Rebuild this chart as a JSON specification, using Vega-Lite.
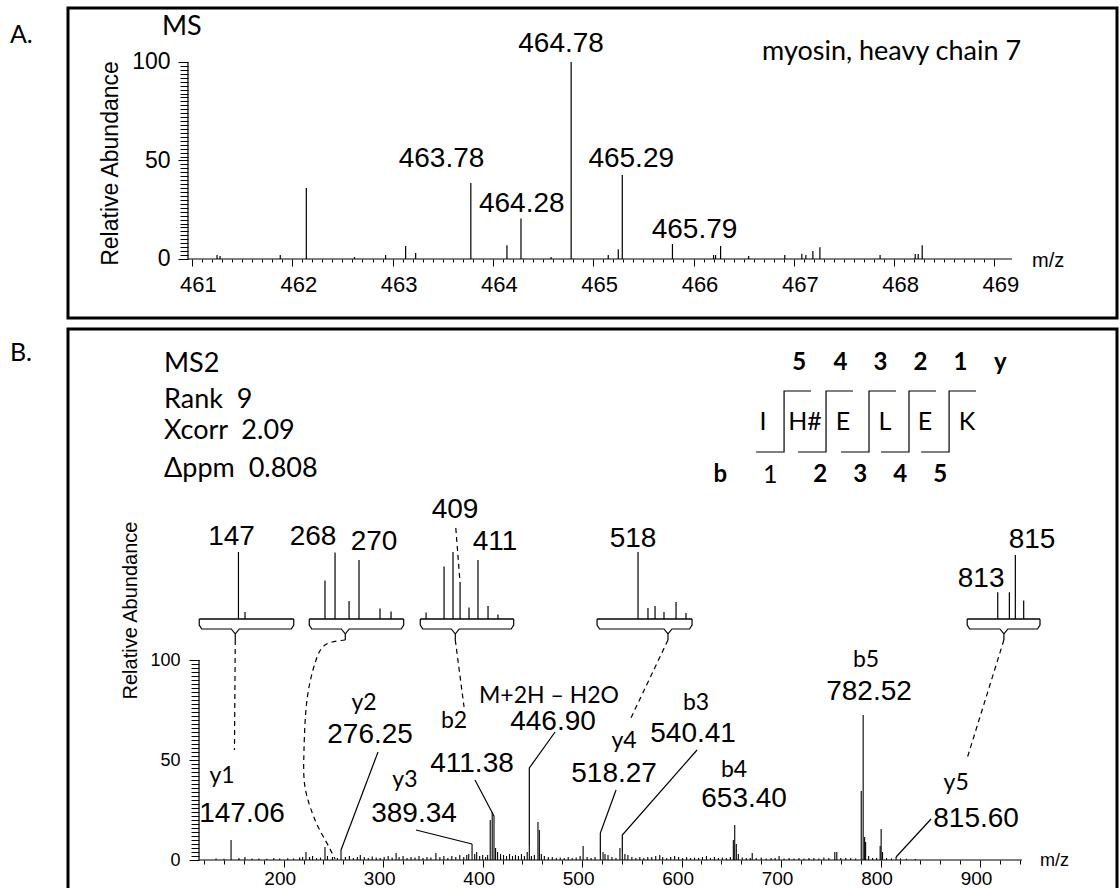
{
"$schema": "https://vega.github.io/schema/vega-lite/v6.json",
"background": "white",
"padding": {"left": 8, "top": 6, "right": 0, "bottom": 0},
"spacing": 11,
"bounds": "flush",
"config": {
  "view": {"stroke": "black", "strokeWidth": 3},
  "axis": {"grid": false, "domain": false, "tickColor": "black", "labelColor": "black", "titleColor": "black", "labelFont": "Liberation Sans", "titleFont": "Liberation Sans", "titleFontWeight": "normal", "labelOverlap": false, "labelFlush": false, "labelBound": false, "tickWidth": 1}
},
"vconcat": [
{
  "width": 1049, "height": 310,
  "encoding": {
    "x": {"field": "mz", "type": "quantitative", "scale": {"domain": [459.764, 470.222], "nice": false, "zero": false},
      "axis": {"orient": "bottom", "offset": -59, "title": null,
        "values": [461,461.1,461.2,461.3,461.4,461.5,461.6,461.7,461.8,461.9,462,462.1,462.2,462.3,462.4,462.5,462.6,462.7,462.8,462.9,463,463.1,463.2,463.3,463.4,463.5,463.6,463.7,463.8,463.9,464,464.1,464.2,464.3,464.4,464.5,464.6,464.7,464.8,464.9,465,465.1,465.2,465.3,465.4,465.5,465.6,465.7,465.8,465.9,466,466.1,466.2,466.3,466.4,466.5,466.6,466.7,466.8,466.9,467,467.1,467.2,467.3,467.4,467.5,467.6,467.7,467.8,467.9,468,468.1,468.2,468.3,468.4,468.5,468.6,468.7,468.8,468.9,469],
        "tickSize": {"condition": {"test": "datum.value % 1 === 0", "value": 7}, "value": 3},
        "labelExpr": "datum.value % 1 === 0 ? format(datum.value, 'd') : ''",
        "labelFontSize": 22, "labelPadding": 8, "labelOffset": 6}},
    "y": {"field": "ab", "type": "quantitative", "scale": {"domain": [-29.95, 127.41], "nice": false, "zero": false},
      "axis": {"orient": "left", "offset": -120, "title": "Relative Abundance", "titleFontSize": 23, "titlePadding": 9,
        "values": [0,2,4,6,8,10,12,14,16,18,20,22,24,26,28,30,32,34,36,38,40,42,44,46,48,50,52,54,56,58,60,62,64,66,68,70,72,74,76,78,80,82,84,86,88,90,92,94,96,98,100],
        "tickSize": {"condition": {"test": "datum.value % 50 === 0", "value": 10}, "value": 8},
        "labelExpr": "datum.value % 50 === 0 ? datum.label : ''",
        "labelFontSize": 23, "labelPadding": 8}}
  },
  "layer": [
    {"data": {"values": [{"mz": 460.96, "ab": 0, "mz2": 469.175, "ab2": 0}, {"mz": 460.96, "ab": 0, "mz2": 460.96, "ab2": 100}]},
     "mark": {"type": "rule", "color": "black", "strokeWidth": 1.2},
     "encoding": {"x2": {"field": "mz2"}, "y2": {"field": "ab2"}}},
    {"data": {"values": [
      {"mz": 461.25, "ab": 2}, {"mz": 461.28, "ab": 1.5}, {"mz": 461.88, "ab": 2}, {"mz": 462.14, "ab": 36},
      {"mz": 462.62, "ab": 1}, {"mz": 462.93, "ab": 2}, {"mz": 463.13, "ab": 6.6}, {"mz": 463.23, "ab": 3},
      {"mz": 463.78, "ab": 38.6}, {"mz": 464.14, "ab": 7}, {"mz": 464.28, "ab": 20.5}, {"mz": 464.58, "ab": 1},
      {"mz": 464.78, "ab": 100}, {"mz": 465.15, "ab": 2}, {"mz": 465.25, "ab": 5}, {"mz": 465.29, "ab": 42.6},
      {"mz": 465.79, "ab": 7.6}, {"mz": 466.2, "ab": 2}, {"mz": 466.22, "ab": 2}, {"mz": 466.27, "ab": 6.6},
      {"mz": 466.55, "ab": 1.5}, {"mz": 466.91, "ab": 2}, {"mz": 467.08, "ab": 2.7}, {"mz": 467.12, "ab": 2},
      {"mz": 467.19, "ab": 4}, {"mz": 467.26, "ab": 6}, {"mz": 467.86, "ab": 2}, {"mz": 468.21, "ab": 2.5},
      {"mz": 468.24, "ab": 2.5}, {"mz": 468.28, "ab": 7}]},
     "mark": {"type": "rule", "color": "black", "strokeWidth": 1.2},
     "encoding": {"y2": {"datum": 0}}},
    {"data": {"values": [
      {"mz": 463.488, "ab": 46.7, "t": "463.78"}, {"mz": 464.288, "ab": 23.9, "t": "464.28"},
      {"mz": 464.68, "ab": 105.1, "t": "464.78"}, {"mz": 465.379, "ab": 46.7, "t": "465.29"},
      {"mz": 466.01, "ab": 10.7, "t": "465.79"}]},
     "mark": {"type": "text", "font": "Liberation Sans", "fontSize": 28, "align": "center", "baseline": "alphabetic", "color": "black"},
     "encoding": {"text": {"field": "t"}}},
    {"data": {"values": [{"mz": 459.185, "ab": 109.6, "t": "A."}]},
     "mark": {"type": "text", "font": "Lato", "fontSize": 25, "align": "left", "baseline": "alphabetic", "color": "black"},
     "encoding": {"text": {"field": "t"}}},
    {"data": {"values": [
      {"mz": 460.70, "ab": 113.7, "t": "MS"},
      {"mz": 466.683, "ab": 101, "t": "myosin, heavy chain 7"}]},
     "mark": {"type": "text", "font": "Lato", "fontSize": 27, "align": "left", "baseline": "alphabetic", "color": "black"},
     "encoding": {"text": {"field": "t"}}},
    {"data": {"values": [{"mz": 469.375, "ab": -4.1, "t": "m/z"}]},
     "mark": {"type": "text", "font": "Liberation Sans", "fontSize": 20, "align": "left", "baseline": "alphabetic", "color": "black"},
     "encoding": {"text": {"field": "t"}}}
  ]
},
{
  "width": 1049, "height": 562,
  "encoding": {
    "x": {"field": "mz", "type": "quantitative", "scale": {"domain": [-16.85, 1037.7], "nice": false, "zero": false},
      "axis": {"orient": "bottom", "offset": -31, "title": null,
        "values": [120,140,160,180,200,220,240,260,280,300,320,340,360,380,400,420,440,460,480,500,520,540,560,580,600,620,640,660,680,700,720,740,760,780,800,820,840,860,880,900,920,940],
        "tickSize": {"condition": {"test": "datum.value % 100 === 0", "value": 7}, "value": 4},
        "labelExpr": "datum.value % 100 === 0 ? datum.label : ''",
        "labelFontSize": 19, "labelPadding": 2, "labelOffset": -4}},
    "y": {"field": "ab", "type": "quantitative", "scale": {"domain": [-15.5, 265.5], "nice": false, "zero": false},
      "axis": {"orient": "left", "offset": -131, "title": "Relative Abundance", "titleFontSize": 20, "titlePadding": 9,
        "values": [0,2,4,6,8,10,12,14,16,18,20,22,24,26,28,30,32,34,36,38,40,42,44,46,48,50,52,54,56,58,60,62,64,66,68,70,72,74,76,78,80,82,84,86,88,90,92,94,96,98,100],
        "tickSize": {"condition": {"test": "datum.value % 50 === 0", "value": 10}, "value": 8},
        "labelExpr": "datum.value % 50 === 0 ? datum.label : ''",
        "labelFontSize": 18, "labelPadding": 9}}
  },
  "layer": [
    {"data": {"values": [{"mz": 114.85, "ab": 0, "mz2": 942.2, "ab2": 0}, {"mz": 114.85, "ab": 0, "mz2": 114.85, "ab2": 100}]},
     "mark": {"type": "rule", "color": "black", "strokeWidth": 1.2},
     "encoding": {"x2": {"field": "mz2"}, "y2": {"field": "ab2"}}},
    {"data": {"values": [
      {"mz":132,"ab":0.8},{"mz":140,"ab":0.6},{"mz":147.06,"ab":10},{"mz":155,"ab":1},{"mz":161,"ab":1.5},{"mz":168,"ab":0.7},{"mz":175,"ab":0.8},{"mz":183,"ab":0.6},{"mz":190,"ab":1},{"mz":196,"ab":0.7},
      {"mz":204,"ab":0.9},{"mz":210,"ab":0.8},{"mz":216,"ab":1.2},{"mz":219,"ab":1.5},{"mz":222.4,"ab":4},{"mz":226,"ab":1.5},{"mz":229,"ab":2},{"mz":233,"ab":1},{"mz":237,"ab":1.2},{"mz":241.5,"ab":6.5},
      {"mz":244,"ab":2},{"mz":249,"ab":1.5},{"mz":254,"ab":1},{"mz":257.6,"ab":5},{"mz":262,"ab":1.5},{"mz":266,"ab":2},{"mz":270,"ab":1},{"mz":274,"ab":1.5},{"mz":277,"ab":2.5},{"mz":281,"ab":1.5},
      {"mz":285,"ab":1},{"mz":289,"ab":1.8},{"mz":293,"ab":1.2},{"mz":297,"ab":1},{"mz":301,"ab":1.5},{"mz":305,"ab":2},{"mz":309,"ab":1.2},{"mz":313,"ab":3.5},{"mz":316,"ab":1.5},{"mz":320,"ab":2},
      {"mz":324,"ab":1},{"mz":328,"ab":1.5},{"mz":332,"ab":1.2},{"mz":336,"ab":2},{"mz":340,"ab":1},{"mz":344,"ab":1.5},{"mz":348,"ab":1.2},{"mz":353,"ab":3.5},{"mz":357,"ab":1.5},{"mz":361,"ab":2},
      {"mz":365,"ab":1},{"mz":369,"ab":2},{"mz":373,"ab":1.5},{"mz":377,"ab":2.5},{"mz":381,"ab":1.5},{"mz":384,"ab":2.5},{"mz":386,"ab":3},{"mz":389.34,"ab":8},{"mz":392,"ab":3},{"mz":394,"ab":4},
      {"mz":397,"ab":2},{"mz":400,"ab":2.5},{"mz":403,"ab":1.5},{"mz":405,"ab":2.5},{"mz":407.6,"ab":20},{"mz":409.6,"ab":24},{"mz":411.4,"ab":22},{"mz":413,"ab":6},{"mz":415,"ab":4},{"mz":418,"ab":3},
      {"mz":421,"ab":2.5},{"mz":424,"ab":2},{"mz":427,"ab":3},{"mz":430,"ab":2},{"mz":433,"ab":2.5},{"mz":436,"ab":2},{"mz":439,"ab":3},{"mz":442,"ab":2},{"mz":444.8,"ab":4},{"mz":446.9,"ab":7.5},
      {"mz":449,"ab":2},{"mz":452,"ab":2.5},{"mz":455.6,"ab":19},{"mz":457,"ab":15},{"mz":459,"ab":3},{"mz":462,"ab":2},{"mz":466,"ab":1.5},{"mz":470,"ab":1.5},{"mz":474,"ab":1},{"mz":478,"ab":1.2},
      {"mz":482,"ab":1},{"mz":486,"ab":1.5},{"mz":490,"ab":1},{"mz":494,"ab":1.2},{"mz":498,"ab":2},{"mz":501,"ab":7},{"mz":505,"ab":1.5},{"mz":509,"ab":1},{"mz":513,"ab":1.5},{"mz":518.3,"ab":3},
      {"mz":521,"ab":4},{"mz":523,"ab":3},{"mz":526,"ab":2.5},{"mz":530,"ab":1.5},{"mz":534,"ab":1},{"mz":538,"ab":6},{"mz":540.4,"ab":4},{"mz":543,"ab":3},{"mz":546,"ab":2.5},{"mz":550,"ab":1.5},
      {"mz":554,"ab":1},{"mz":558,"ab":1.5},{"mz":562,"ab":1},{"mz":566,"ab":1.5},{"mz":570,"ab":1.5},{"mz":574,"ab":2},{"mz":578,"ab":2.5},{"mz":581,"ab":1.5},{"mz":585,"ab":1},{"mz":589,"ab":1.5},
      {"mz":593,"ab":2},{"mz":597,"ab":1.5},{"mz":601,"ab":1},{"mz":605,"ab":1.5},{"mz":609,"ab":1},{"mz":613,"ab":1.2},{"mz":617,"ab":1},{"mz":621,"ab":1.5},{"mz":625,"ab":2},{"mz":629,"ab":1},
      {"mz":633,"ab":1.5},{"mz":637,"ab":1},{"mz":641,"ab":1.2},{"mz":645,"ab":1},{"mz":649,"ab":1.5},{"mz":652,"ab":10},{"mz":653.4,"ab":17.5},{"mz":655,"ab":8},{"mz":657,"ab":3},{"mz":661,"ab":1.2},
      {"mz":665,"ab":1},{"mz":669,"ab":1},{"mz":671,"ab":3.5},{"mz":675,"ab":1},{"mz":680,"ab":1.2},{"mz":685,"ab":0.8},{"mz":690,"ab":1},{"mz":694,"ab":1},{"mz":698,"ab":2},{"mz":703,"ab":0.8},
      {"mz":708,"ab":1},{"mz":713,"ab":0.8},{"mz":718,"ab":1},{"mz":723,"ab":0.8},{"mz":728,"ab":1},{"mz":733,"ab":1},{"mz":738,"ab":0.8},{"mz":743,"ab":1.2},{"mz":748,"ab":1},{"mz":754,"ab":4},
      {"mz":756,"ab":4},{"mz":760,"ab":1},{"mz":765,"ab":1},{"mz":770,"ab":1},{"mz":775,"ab":0.8},{"mz":780.6,"ab":34.5},{"mz":782.52,"ab":72.5},{"mz":784,"ab":11.5},{"mz":785,"ab":9},{"mz":788,"ab":2},
      {"mz":792,"ab":1},{"mz":796,"ab":1},{"mz":799.6,"ab":7},{"mz":800.6,"ab":15.5},{"mz":802,"ab":4},{"mz":806,"ab":1},{"mz":811,"ab":0.8},{"mz":815.6,"ab":1.5},{"mz":820,"ab":0.8},{"mz":826,"ab":0.6},{"mz":835,"ab":0.5}]},
     "mark": {"type": "rule", "color": "black", "strokeWidth": 1.1},
     "encoding": {"y2": {"datum": 0}}},
    {"data": {"values": [
      {"mz":154.5,"ab":154},{"mz":161.1,"ab":124},
      {"mz":241.5,"ab":139.7},{"mz":251.6,"ab":153.8},{"mz":265.7,"ab":129.5},{"mz":275.7,"ab":150},{"mz":296.8,"ab":125.8},{"mz":307.9,"ab":124.2},
      {"mz":343.1,"ab":123.7},{"mz":361.2,"ab":146.7},{"mz":370.2,"ab":154},{"mz":377.3,"ab":138.5},{"mz":386.3,"ab":126.3},{"mz":395.3,"ab":150},{"mz":405.4,"ab":127},{"mz":415.4,"ab":122.8},
      {"mz":556.2,"ab":154},{"mz":566.2,"ab":126},{"mz":573.3,"ab":127},{"mz":582.3,"ab":124},{"mz":594.4,"ab":129},{"mz":604.4,"ab":123.5},
      {"mz":917.8,"ab":133.9},{"mz":929.5,"ab":133.9},{"mz":935.5,"ab":152.5},{"mz":943.9,"ab":129.7}]},
     "mark": {"type": "rule", "color": "black", "strokeWidth": 1.2},
     "encoding": {"y2": {"datum": 120.5}}},
    {"data": {"values": [
      {"mz":115.1,"mz2":210.1,"ab":120.5,"ab2":120.5},{"mz":225.7,"mz2":320.6,"ab":120.5,"ab2":120.5},
      {"mz":337.3,"mz2":431.2,"ab":120.5,"ab2":120.5},{"mz":515,"mz2":610.5,"ab":120.5,"ab2":120.5},
      {"mz":887.1,"mz2":960.3,"ab":120.5,"ab2":120.5}]},
     "mark": {"type": "rule", "color": "black", "strokeWidth": 1.3},
     "encoding": {"x2": {"field": "mz2"}, "y2": {"field": "ab2"}}},
    {"data": {"values": [
      {"g":"i1","o":1,"mz":115.1,"ab":120.5},{"g":"i1","o":2,"mz":115.1,"ab":117.5},{"g":"i1","o":3,"mz":117.6,"ab":115.5},{"g":"i1","o":4,"mz":147.3,"ab":115.5},{"g":"i1","o":5,"mz":151.3,"ab":113},{"g":"i1","o":6,"mz":151.3,"ab":110},{"g":"i1","o":7,"mz":151.3,"ab":113},{"g":"i1","o":8,"mz":155.3,"ab":115.5},{"g":"i1","o":9,"mz":207.6,"ab":115.5},{"g":"i1","o":10,"mz":210.1,"ab":117.5},{"g":"i1","o":11,"mz":210.1,"ab":120.5},
      {"g":"i2","o":1,"mz":225.7,"ab":120.5},{"g":"i2","o":2,"mz":225.7,"ab":117.5},{"g":"i2","o":3,"mz":228.2,"ab":115.5},{"g":"i2","o":4,"mz":257.9,"ab":115.5},{"g":"i2","o":5,"mz":261.9,"ab":113},{"g":"i2","o":6,"mz":261.9,"ab":110},{"g":"i2","o":7,"mz":261.9,"ab":113},{"g":"i2","o":8,"mz":265.9,"ab":115.5},{"g":"i2","o":9,"mz":318.1,"ab":115.5},{"g":"i2","o":10,"mz":320.6,"ab":117.5},{"g":"i2","o":11,"mz":320.6,"ab":120.5},
      {"g":"i3","o":1,"mz":337.3,"ab":120.5},{"g":"i3","o":2,"mz":337.3,"ab":117.5},{"g":"i3","o":3,"mz":339.8,"ab":115.5},{"g":"i3","o":4,"mz":368.5,"ab":115.5},{"g":"i3","o":5,"mz":372.5,"ab":113},{"g":"i3","o":6,"mz":372.5,"ab":110},{"g":"i3","o":7,"mz":372.5,"ab":113},{"g":"i3","o":8,"mz":376.5,"ab":115.5},{"g":"i3","o":9,"mz":428.7,"ab":115.5},{"g":"i3","o":10,"mz":431.2,"ab":117.5},{"g":"i3","o":11,"mz":431.2,"ab":120.5},
      {"g":"i4","o":1,"mz":515,"ab":120.5},{"g":"i4","o":2,"mz":515,"ab":117.5},{"g":"i4","o":3,"mz":517.5,"ab":115.5},{"g":"i4","o":4,"mz":582.3,"ab":115.5},{"g":"i4","o":5,"mz":586.3,"ab":113},{"g":"i4","o":6,"mz":586.3,"ab":110},{"g":"i4","o":7,"mz":586.3,"ab":113},{"g":"i4","o":8,"mz":590.3,"ab":115.5},{"g":"i4","o":9,"mz":608,"ab":115.5},{"g":"i4","o":10,"mz":610.5,"ab":117.5},{"g":"i4","o":11,"mz":610.5,"ab":120.5},
      {"g":"i5","o":1,"mz":887.1,"ab":120.5},{"g":"i5","o":2,"mz":887.1,"ab":117.5},{"g":"i5","o":3,"mz":889.6,"ab":115.5},{"g":"i5","o":4,"mz":920,"ab":115.5},{"g":"i5","o":5,"mz":924,"ab":113},{"g":"i5","o":6,"mz":924,"ab":110},{"g":"i5","o":7,"mz":924,"ab":113},{"g":"i5","o":8,"mz":928,"ab":115.5},{"g":"i5","o":9,"mz":957.8,"ab":115.5},{"g":"i5","o":10,"mz":960.3,"ab":117.5},{"g":"i5","o":11,"mz":960.3,"ab":120.5},
      {"g":"s1","o":1,"mz":674.9,"ab":204},{"g":"s1","o":2,"mz":703,"ab":204},{"g":"s1","o":3,"mz":703,"ab":234.5},{"g":"s1","o":4,"mz":730.1,"ab":234.5},
      {"g":"s2","o":1,"mz":717.1,"ab":204},{"g":"s2","o":2,"mz":745.2,"ab":204},{"g":"s2","o":3,"mz":745.2,"ab":234.5},{"g":"s2","o":4,"mz":772.3,"ab":234.5},
      {"g":"s3","o":1,"mz":760.3,"ab":204},{"g":"s3","o":2,"mz":788.4,"ab":204},{"g":"s3","o":3,"mz":788.4,"ab":234.5},{"g":"s3","o":4,"mz":815.5,"ab":234.5},
      {"g":"s4","o":1,"mz":800.5,"ab":204},{"g":"s4","o":2,"mz":828.6,"ab":204},{"g":"s4","o":3,"mz":828.6,"ab":234.5},{"g":"s4","o":4,"mz":855.7,"ab":234.5},
      {"g":"s5","o":1,"mz":840.8,"ab":204},{"g":"s5","o":2,"mz":868.9,"ab":204},{"g":"s5","o":3,"mz":868.9,"ab":234.5},{"g":"s5","o":4,"mz":896,"ab":234.5},
      {"g":"y2","o":1,"mz":294.8,"ab":54},{"g":"y2","o":2,"mz":257.6,"ab":5},
      {"g":"y3","o":1,"mz":333,"ab":15},{"g":"y3","o":2,"mz":389.34,"ab":8},
      {"g":"b2","o":1,"mz":392.3,"ab":40},{"g":"b2","o":2,"mz":411.4,"ab":22},
      {"g":"m","o":1,"mz":472.8,"ab":64},{"g":"m","o":2,"mz":446.9,"ab":46},{"g":"m","o":3,"mz":446.9,"ab":7.5},
      {"g":"y4","o":1,"mz":534.1,"ab":35},{"g":"y4","o":2,"mz":518.3,"ab":13.5},{"g":"y4","o":3,"mz":518.3,"ab":3},
      {"g":"b3","o":1,"mz":615.5,"ab":55},{"g":"b3","o":2,"mz":540.4,"ab":12.5},{"g":"b3","o":3,"mz":540.4,"ab":4},
      {"g":"y5","o":1,"mz":850.8,"ab":20.5},{"g":"y5","o":2,"mz":815.6,"ab":1.5}]},
     "mark": {"type": "line", "color": "black", "strokeWidth": 1.2},
     "encoding": {"detail": {"field": "g"}, "order": {"field": "o", "type": "quantitative"}}},
    {"data": {"values": [
      {"g":"d1","o":1,"mz":151.3,"ab":110},{"g":"d1","o":2,"mz":150.5,"ab":55},
      {"g":"d2","o":1,"mz":261.9,"ab":110},{"g":"d2","o":2,"mz":241.5,"ab":107.5},{"g":"d2","o":3,"mz":231.5,"ab":98.5},{"g":"d2","o":4,"mz":223.4,"ab":80},{"g":"d2","o":5,"mz":220.4,"ab":55},{"g":"d2","o":6,"mz":221.4,"ab":36.5},{"g":"d2","o":7,"mz":231.5,"ab":20},{"g":"d2","o":8,"mz":245.5,"ab":6.5},{"g":"d2","o":9,"mz":251.6,"ab":0.5},
      {"g":"d3","o":1,"mz":372.5,"ab":110},{"g":"d3","o":2,"mz":381.3,"ab":76.5},
      {"g":"d4","o":1,"mz":373,"ab":166},{"g":"d4","o":2,"mz":377.3,"ab":138.5},
      {"g":"d5","o":1,"mz":586.3,"ab":110},{"g":"d5","o":2,"mz":548.1,"ab":70},
      {"g":"d6","o":1,"mz":924,"ab":110},{"g":"d6","o":2,"mz":887.1,"ab":51}]},
     "mark": {"type": "line", "color": "black", "strokeWidth": 1.2, "strokeDash": [5, 4], "interpolate": "cardinal"},
     "encoding": {"detail": {"field": "g"}, "order": {"field": "o", "type": "quantitative"}}},
    {"data": {"values": [
      {"mz":158.1,"ab":19,"t":"147.06"},{"mz":286.8,"ab":58.5,"t":"276.25"},{"mz":389.3,"ab":44,"t":"411.38"},
      {"mz":470.7,"ab":65,"t":"446.90"},{"mz":331.0,"ab":19,"t":"389.34"},{"mz":532.1,"ab":39,"t":"518.27"},
      {"mz":611.5,"ab":59,"t":"540.41"},{"mz":662.8,"ab":26.5,"t":"653.40"},{"mz":788.4,"ab":80,"t":"782.52"},
      {"mz":896.0,"ab":16.5,"t":"815.60"},
      {"mz":147.5,"ab":157.5,"t":"147"},{"mz":229.5,"ab":157.5,"t":"268"},{"mz":290.8,"ab":155,"t":"270"},
      {"mz":372.2,"ab":171,"t":"409"},{"mz":412.4,"ab":155,"t":"411"},{"mz":551.2,"ab":156.5,"t":"518"},
      {"mz":901.1,"ab":136.5,"t":"813"},{"mz":952.3,"ab":156,"t":"815"}]},
     "mark": {"type": "text", "font": "Liberation Sans", "fontSize": 28, "align": "center", "baseline": "alphabetic", "color": "black"},
     "encoding": {"text": {"field": "t"}}},
    {"data": {"values": [
      {"mz":138.0,"ab":38.5,"t":"y1"},{"mz":280.7,"ab":75,"t":"y2"},{"mz":371.2,"ab":66,"t":"b2"},
      {"mz":466.7,"ab":78.5,"t":"M+2H – H2O"},{"mz":321.9,"ab":36.5,"t":"y3"},{"mz":542.1,"ab":56,"t":"y4"},
      {"mz":614.5,"ab":75,"t":"b3"},{"mz":652.7,"ab":41.5,"t":"b4"},{"mz":785.4,"ab":96.5,"t":"b5"},
      {"mz":876.0,"ab":35,"t":"y5"}]},
     "mark": {"type": "text", "font": "Lato", "fontSize": 23, "align": "center", "baseline": "alphabetic", "color": "black"},
     "encoding": {"text": {"field": "t"}}},
    {"data": {"values": [
      {"mz":79.7,"ab":244,"t":"MS2"},{"mz":79.7,"ab":226,"t":"Rank\u00a0\u00a09"},
      {"mz":79.7,"ab":210.5,"t":"Xcorr\u00a0\u00a02.09"},{"mz":79.7,"ab":191.5,"t":"Δppm\u00a0\u00a00.808"}]},
     "mark": {"type": "text", "font": "Lato", "fontSize": 27, "align": "left", "baseline": "alphabetic", "color": "black"},
     "encoding": {"text": {"field": "t"}}},
    {"data": {"values": [{"mz":-75.2,"ab":249.5,"t":"B."}]},
     "mark": {"type": "text", "font": "Lato", "fontSize": 25, "align": "left", "baseline": "alphabetic", "color": "black"},
     "encoding": {"text": {"field": "t"}}},
    {"data": {"values": [
      {"mz":718.3,"ab":245,"t":"5"},{"mz":759.6,"ab":245,"t":"4"},{"mz":799.8,"ab":245,"t":"3"},
      {"mz":840,"ab":245,"t":"2"},{"mz":880.2,"ab":245,"t":"1"},{"mz":920.4,"ab":245,"t":"y"},
      {"mz":638.8,"ab":189,"t":"b"},{"mz":739.3,"ab":189,"t":"2"},{"mz":779.5,"ab":189,"t":"3"},
      {"mz":819.7,"ab":189,"t":"4"},{"mz":859.9,"ab":189,"t":"5"}]},
     "mark": {"type": "text", "font": "Lato", "fontSize": 24, "fontWeight": "bold", "align": "center", "baseline": "alphabetic", "color": "black"},
     "encoding": {"text": {"field": "t"}}},
    {"data": {"values": [
      {"mz":681.8,"ab":215,"t":"I"},{"mz":724,"ab":215,"t":"H#"},{"mz":762.2,"ab":215,"t":"E"},
      {"mz":804.4,"ab":215,"t":"L"},{"mz":844.6,"ab":215,"t":"E"},{"mz":886.9,"ab":215,"t":"K"},
      {"mz":689,"ab":188.5,"t":"1"}]},
     "mark": {"type": "text", "font": "Lato", "fontSize": 25, "align": "center", "baseline": "alphabetic", "color": "black"},
     "encoding": {"text": {"field": "t"}}},
    {"data": {"values": [{"mz": 960.3, "ab": -3, "t": "m/z"}]},
     "mark": {"type": "text", "font": "Liberation Sans", "fontSize": 18, "align": "left", "baseline": "alphabetic", "color": "black"},
     "encoding": {"text": {"field": "t"}}}
  ]
}
]
}
